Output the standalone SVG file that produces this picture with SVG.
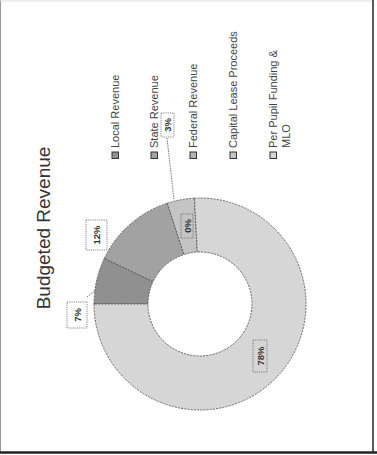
<svg xmlns="http://www.w3.org/2000/svg" width="377" height="455" viewBox="0 0 377 455">
<style>
text{font-family:"Liberation Sans","Open Sans",Arial,sans-serif;fill:#333}
.leg{font-size:11px;fill:#444}
.lab{font-size:9.5px;font-weight:bold;fill:#333}
.seg{stroke:#555;stroke-width:0.9;stroke-dasharray:2 1.2}
.box{fill:none;stroke:#666;stroke-width:0.8;stroke-dasharray:1.2 1}
.mk{stroke:#333;stroke-width:1}
.lead{fill:none;stroke:#555;stroke-width:0.8;stroke-dasharray:1.5 1}
</style>
<rect width="377" height="455" fill="#fff"/>
<g id="frame">
<line x1="0.5" y1="0" x2="0.5" y2="452" stroke="#999" stroke-width="1"/>
<line x1="0" y1="1" x2="373" y2="1" stroke="#ddd" stroke-width="1"/>
<line x1="373" y1="0" x2="373" y2="453" stroke="#333" stroke-width="1.6"/>
<line x1="0" y1="452.5" x2="377" y2="452.5" stroke="#222" stroke-width="2.5"/>
</g>
<g id="title"><text transform="translate(50,228) rotate(-90)" text-anchor="middle" font-size="19">Budgeted Revenue</text></g>
<g id="donut">
<path id="seg-local" class="seg" fill="#909090" d="M94,304 A106,106 0 0 1 104.32,258.37 L153.07,281.61 A52,52 0 0 0 148,304 Z"/>
<path id="seg-state" class="seg" fill="#a2a2a2" d="M104.32,258.37 A106,106 0 0 1 167.25,203.18 L183.93,254.54 A52,52 0 0 0 153.07,281.61 Z"/>
<path id="seg-federal" class="seg" fill="#c4c4c4" d="M167.25,203.18 A106,106 0 0 1 194.45,198.15 L197.28,252.07 A52,52 0 0 0 183.93,254.54 Z"/>
<path id="seg-perpupil" class="seg" fill="#d6d6d6" stroke="#888" d="M194.45,198.15 A106,106 0 1 1 94,304 L148,304 A52,52 0 1 0 197.28,252.07 Z"/>
</g>
<g id="connectors">
<path class="lead" d="M87,297 L97,289"/>
<path class="lead" d="M167,138 L174,200"/>
</g>
<g id="label-7">
<rect class="box" x="67" y="302" width="20" height="26"/>
<text class="lab" transform="translate(81,315) rotate(-90)" text-anchor="middle">7%</text>
</g>
<g id="label-12">
<rect class="box" x="86" y="220" width="21" height="30"/>
<text class="lab" transform="translate(100,235) rotate(-90)" text-anchor="middle">12%</text>
</g>
<g id="label-3">
<rect class="box" x="161" y="113" width="13" height="24"/>
<text class="lab" transform="translate(171,125) rotate(-90)" text-anchor="middle">3%</text>
</g>
<g id="label-0">
<rect class="box" x="181" y="214" width="12" height="24" stroke="#aaa"/>
<text class="lab" transform="translate(191,226) rotate(-90)" text-anchor="middle">0%</text>
</g>
<g id="label-78">
<rect class="box" x="253" y="340" width="14" height="32"/>
<text class="lab" transform="translate(264,356) rotate(-90)" text-anchor="middle">78%</text>
</g>
<g id="legend-local">
<rect class="mk" x="112" y="152" width="6.5" height="6.5" fill="#909090"/>
<text class="leg" transform="translate(119,148) rotate(-90)">Local Revenue</text>
</g>
<g id="legend-state">
<rect class="mk" x="151" y="152" width="6.5" height="6.5" fill="#a2a2a2"/>
<text class="leg" transform="translate(158,148) rotate(-90)">State Revenue</text>
</g>
<g id="legend-federal">
<rect class="mk" x="190" y="152" width="6.5" height="6.5" fill="#b4b4b4"/>
<text class="leg" transform="translate(197,148) rotate(-90)">Federal Revenue</text>
</g>
<g id="legend-capital">
<rect class="mk" x="230" y="152" width="6.5" height="6.5" fill="#c4c4c4"/>
<text class="leg" transform="translate(237,148) rotate(-90)">Capital Lease Proceeds</text>
</g>
<g id="legend-perpupil">
<rect class="mk" x="270" y="152" width="6.5" height="6.5" fill="#d6d6d6"/>
<text class="leg" transform="translate(277,148) rotate(-90)">Per Pupil Funding &amp;</text>
<text class="leg" transform="translate(290,148) rotate(-90)">MLO</text>
</g>
</svg>
